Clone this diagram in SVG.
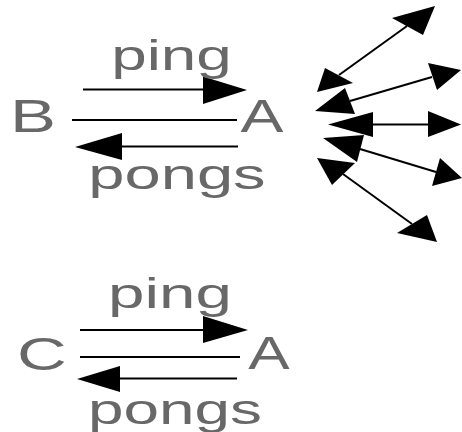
<svg xmlns="http://www.w3.org/2000/svg" width="462" height="432" viewBox="0 0 462 432">
  <style>
    .lbl { font-family: "Liberation Sans", Arial, sans-serif; fill: #686868; text-anchor: middle; }
    .node { font-size: 46px; }
    .msg { font-size: 42px; }
    .ln { stroke: #000; stroke-width: 2; fill: none; }
    .head { fill: #000; stroke: none; }
  </style>
  <rect width="462" height="432" fill="#fff"/>

  <!-- upper pair: B talks to A -->
  <g id="node-B"><text class="lbl node" transform="translate(33,132) scale(1.5,1)">B</text></g>
  <g id="node-A1"><text class="lbl node" transform="translate(262,132) scale(1.4,1)">A</text></g>

  <!-- lower pair: C talks to A -->
  <g id="node-C"><text class="lbl node" transform="translate(42,370) scale(1.5,1)">C</text></g>
  <g id="node-A2"><text class="lbl node" transform="translate(269,369) scale(1.35,1)">A</text></g>

  <g id="connectors">
    <!-- B / A -->
    <line class="ln" x1="83" y1="89.5" x2="206" y2="89.5"/>
    <polygon class="head" points="247,90 203,76.5 203,104"/>
    <line class="ln" x1="72" y1="120" x2="237" y2="120"/>
    <line class="ln" x1="238" y1="146.5" x2="119" y2="146.5"/>
    <polygon class="head" points="75,147 122,133 122,160"/>

    <!-- C / A -->
    <line class="ln" x1="80" y1="330" x2="206" y2="330"/>
    <polygon class="head" points="248,330 203,316 203,343"/>
    <line class="ln" x1="80" y1="357" x2="240" y2="357"/>
    <line class="ln" x1="237" y1="378.5" x2="119" y2="378.5"/>
    <polygon class="head" points="77,379 120,366 120,392"/>

    <!-- fan of two-way links out of A -->
    <line class="ln" x1="339" y1="75" x2="407" y2="26"/>
    <polygon class="head" points="317,92 325,68 353,83"/>
    <polygon class="head" points="435,6 392,18 423,35"/>

    <line class="ln" x1="350" y1="101" x2="432" y2="77"/>
    <polygon class="head" points="315,111 345,88 355,114"/>
    <polygon class="head" points="461,70 428,63 437,90"/>

    <line class="ln" x1="372" y1="124.5" x2="429" y2="124.5"/>
    <polygon class="head" points="328,124.5 373,112 373,137"/>
    <polygon class="head" points="461,124.5 428,111 428,137"/>

    <line class="ln" x1="360" y1="149" x2="436" y2="172"/>
    <polygon class="head" points="323,138 364,135 357,162"/>
    <polygon class="head" points="462,178 440,158 432,186"/>

    <line class="ln" x1="343" y1="174" x2="412" y2="224"/>
    <polygon class="head" points="317,158 355,163 332,185"/>
    <polygon class="head" points="437,242 397,233 427,215"/>
  </g>

  <g id="labels">
    <text class="lbl msg" transform="translate(171.5,70) scale(1.52,1)">ping</text>
    <text class="lbl msg" transform="translate(177,189) scale(1.55,1)">pongs</text>
    <text class="lbl msg" transform="translate(170,308) scale(1.56,1)">ping</text>
    <text class="lbl msg" transform="translate(175,424) scale(1.52,1)">pongs</text>
  </g>
</svg>
